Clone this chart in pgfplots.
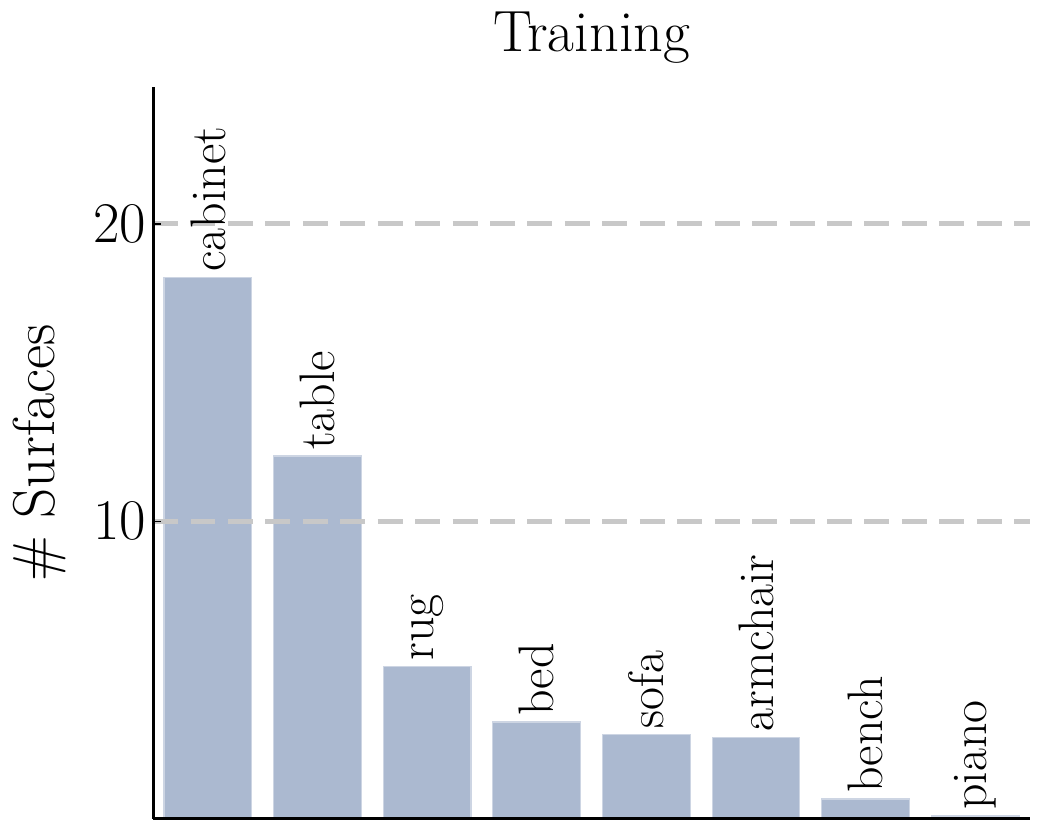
\documentclass[border=0pt]{standalone}
\usepackage{pgfplots}
\pgfplotsset{compat=1.18}
\definecolor{barc}{RGB}{171,185,208}
\definecolor{gridc}{RGB}{200,200,200}
\begin{document}
\begin{tikzpicture}
\begin{axis}[
  scale only axis,
  width=316.2pt, height=263.9pt,
  xmin=-0.5, xmax=7.5,
  ymin=0, ymax=24.6,
  axis x line*=bottom, axis y line*=left,
  axis line style={line width=1.1pt, black},
  xtick=\empty,
  ytick={10,20},
  tick style={black, line width=0.6pt},
  major tick length=3pt,
  y tick label style={font=\fontsize{19.3}{23}\selectfont, xshift=1pt},
  ymajorgrids=true,
  grid style={gridc, line width=1.8pt, dash pattern=on 9pt off 4.5pt},
  axis on top=true,
  title={Training},
  title style={font=\fontsize{21}{25}\selectfont, yshift=-1pt},
  ylabel={\# Surfaces},
  ylabel style={font=\fontsize{21.3}{25}\selectfont, yshift=3pt},
  ybar, bar width=0.8,
  bar shift=0pt,
  nodes near coords,
  point meta=explicit symbolic,
  every node near coord/.append style={rotate=90, anchor=west, font=\fontsize{18}{21}\selectfont, black, inner sep=1pt, xshift=1pt},
  clip=false,
]
\addplot[fill=barc, draw=barc!60!white, line width=0.4pt] table[meta=label] {
x y label
0 18.2 cabinet
1 12.2 table
2 5.13 rug
3 3.26 bed
4 2.85 sofa
5 2.75 armchair
6 0.67 bench
7 0.1 piano
};
\end{axis}
\pgfresetboundingbox
\path ([xshift=-55.2pt,yshift=-4pt]current axis.south west) rectangle ([xshift=3.6pt,yshift=31.4pt]current axis.north east);
\end{tikzpicture}
\end{document}
